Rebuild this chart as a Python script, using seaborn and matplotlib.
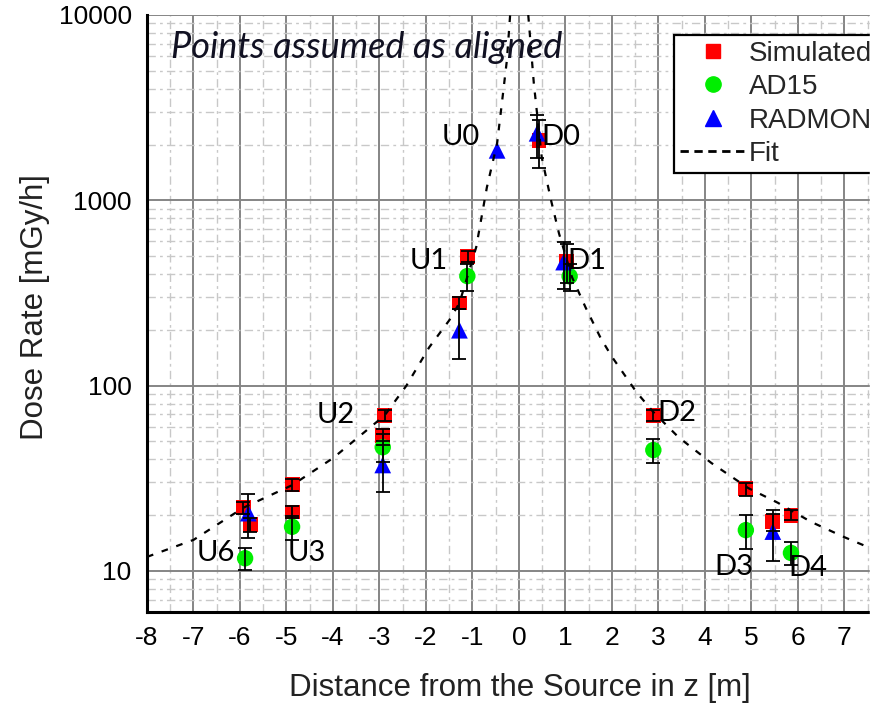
import numpy as np
import pandas as pd
import matplotlib
matplotlib.use("Agg")
import matplotlib.pyplot as plt
import seaborn as sns
from matplotlib.lines import Line2D
from matplotlib.patches import Rectangle
from matplotlib.ticker import MultipleLocator, LogLocator, FuncFormatter, NullFormatter

# Simulated dose rates (red squares)
sim_x = [-5.93, -5.78, -4.88, -4.88, -2.89, -2.93, -1.28, -1.10, 0.43, 1.03, 2.89, 4.88, 5.46, 5.85]
sim_y = [21.9, 17.7, 29.1, 20.8, 69.3, 54.0, 279, 499, 2100, 470, 69.0, 27.7, 18.4, 20.0]
sim_err = [1.5, 1.5, 2.2, 1.6, 4.5, 4.0, 20, 35, 600, 110, 4.5, 2.2, 2.0, 1.2]

# AD15 measurements (green circles)
ad_x = [-5.89, -4.88, -2.93, -1.11, 1.09, 2.89, 4.88, 5.85]
ad_y = [11.7, 17.3, 46.5, 390, 389, 44.9, 16.6, 12.5]
ad_err = [1.6, 2.6, 8.0, 65, 65, 6.5, 3.5, 1.8]

# RADMON measurements (blue triangles)
rad_x = [-5.82, -2.93, -1.28, -0.47, 0.39, 0.96, 5.46]
rad_y = [20.5, 37.3, 199, 1860, 2300, 464, 16.3]
rad_err = [5.5, 10.5, 60, 0, 600, 130, 5.0]

# fit curve (two branches around the source)
fit_left_x = [-8.0, -7.0, -5.93, -4.88, -4.0, -2.89, -2.42, -1.93, -1.5, -1.28, -0.92, -0.69, -0.47, -0.36, -0.26, -0.21, -0.19]
fit_left_y = [11.9, 14.7, 21.9, 29.0, 40.6, 69.0, 100, 161, 225, 279, 558, 1175, 2030, 3470, 5690, 8500, 10000]
fit_right_x = [0.20, 0.32, 0.49, 0.69, 0.86, 1.14, 1.43, 1.76, 2.0, 2.53, 2.89, 3.43, 4.14, 4.93, 5.57, 6.28, 7.0, 7.55]
fit_right_y = [10000, 4270, 1706, 1000, 664, 385, 265, 180, 143, 92, 72, 52.7, 38.2, 28.0, 23.3, 18.4, 15.2, 13.3]

# point labels
lab_text = ["U0", "D0", "U1", "D1", "U2", "D2", "U6", "U3", "D3", "D4"]
lab_x = [-1.26, 0.90, -1.93, 1.46, -3.94, 3.40, -6.53, -4.56, 4.63, 6.21]
lab_y = [2190, 2190, 469, 469, 69.3, 71, 12.5, 12.5, 10.5, 10.4]

sns.set_theme(style="white")
plt.rcParams["font.family"] = ["Liberation Sans", "DejaVu Sans"]
plt.rcParams["axes.unicode_minus"] = False

fig = plt.figure(figsize=(8.89, 7.05), dpi=100)
ax = fig.add_axes([147 / 889, 1 - 612 / 705, (870 - 147) / 889, (612 - 15) / 705])
ax.set_yscale("log")
ax.set_xlim(-8, 7.55)
ax.set_ylim(6, 10000)

ax.xaxis.set_major_locator(MultipleLocator(1))
ax.xaxis.set_minor_locator(MultipleLocator(0.5))
ax.yaxis.set_major_locator(LogLocator(base=10))
ax.yaxis.set_minor_locator(LogLocator(base=10, subs=range(2, 10)))
ax.yaxis.set_major_formatter(FuncFormatter(lambda v, _: f"{v:g}"))
ax.yaxis.set_minor_formatter(NullFormatter())
ax.xaxis.set_major_formatter(FuncFormatter(lambda v, _: f"{v:g}"))

ax.grid(True, which="major", color="#858585", lw=1.4, ls="-", zorder=0)
ax.grid(True, which="minor", color="#c8c8c8", lw=1.0, ls=(0, (6, 3, 2, 3)), zorder=0)
ax.set_axisbelow(True)

for s in ["top", "right"]:
    ax.spines[s].set_visible(False)
for s in ["left", "bottom"]:
    ax.spines[s].set_linewidth(2.2)
    ax.spines[s].set_color("black")
ax.tick_params(which="major", direction="out", length=8, width=2, labelsize=19,
               colors="black", pad=2)
ax.tick_params(which="minor", direction="out", length=5, width=2, colors="black")
ax.tick_params(axis="y", which="major", length=9)

# fit line
for fx, fy in [(fit_left_x, fit_left_y), (fit_right_x, fit_right_y)]:
    sns.lineplot(x=fx, y=fy, color="black", lw=1.6, ls=(0, (3, 4)), sort=False,
                 estimator=None, ax=ax, zorder=3)

series = [
    ("Simulated", sim_x, sim_y, sim_err, "s", "#ff0000", 115),
    ("AD15", ad_x, ad_y, ad_err, "o", "#00ee00", 140),
    ("RADMON", rad_x, rad_y, rad_err, "^", "#0000ff", 145),
]
for name, xs, ys, errs, mk, col, size in series:
    df = pd.DataFrame({"z": xs, "dose": ys, "err": errs})
    sns.scatterplot(data=df, x="z", y="dose", marker=mk, color=col, s=size,
                    edgecolor="none", ax=ax, zorder=2, legend=False)
    e = df[df["err"] > 0]
    ax.errorbar(e["z"], e["dose"], yerr=e["err"], fmt="none", ecolor="black",
                elinewidth=1.3, capsize=5, capthick=1.3, zorder=4)

for t, x, y in zip(lab_text, lab_x, lab_y):
    ax.text(x, y, t, fontsize=21, family="Lato", ha="center", va="center", color="black", zorder=5)

ax.text(-7.49, 6680, "Points assumed as aligned", fontsize=26, family="Lato", style="italic",
        ha="left", va="center", color="#111122", zorder=5)

ax.set_xlabel("Distance from the Source in z [m]", fontsize=22.5, color="#222222")
ax.set_ylabel("Dose Rate [mGy/h]", fontsize=22.5, color="#222222")
ax.xaxis.set_label_coords((520 - 147) / 723, -0.102)
ax.yaxis.set_label_coords(-0.134, 0.51)

handles = [
    Line2D([], [], marker="s", color="#ff0000", ls="none", ms=10),
    Line2D([], [], marker="o", color="#00ee00", ls="none", ms=11),
    Line2D([], [], marker="^", color="#0000ff", ls="none", ms=11),
    Line2D([], [], color="black", lw=2, ls=(0, (3, 2))),
]
leg = ax.legend(handles, ["Simulated", "AD15", "RADMON", "Fit"], loc="upper left",
                bbox_to_anchor=(674 / 889, 1 - 35 / 705), bbox_transform=fig.transFigure,
                borderaxespad=0, fancybox=False, framealpha=1, edgecolor="black",
                fontsize=20, handlelength=2.4, handletextpad=0.1, labelspacing=0.27,
                borderpad=0.2)
leg.get_frame().set_linewidth(1.6)
leg.set_zorder(6)

# the picture is cropped at the right edge
fig.add_artist(Rectangle((870 / 889, 0), 19 / 889, 1, transform=fig.transFigure,
                         color="white", zorder=10))

fig.savefig("out.png", dpi=100)
